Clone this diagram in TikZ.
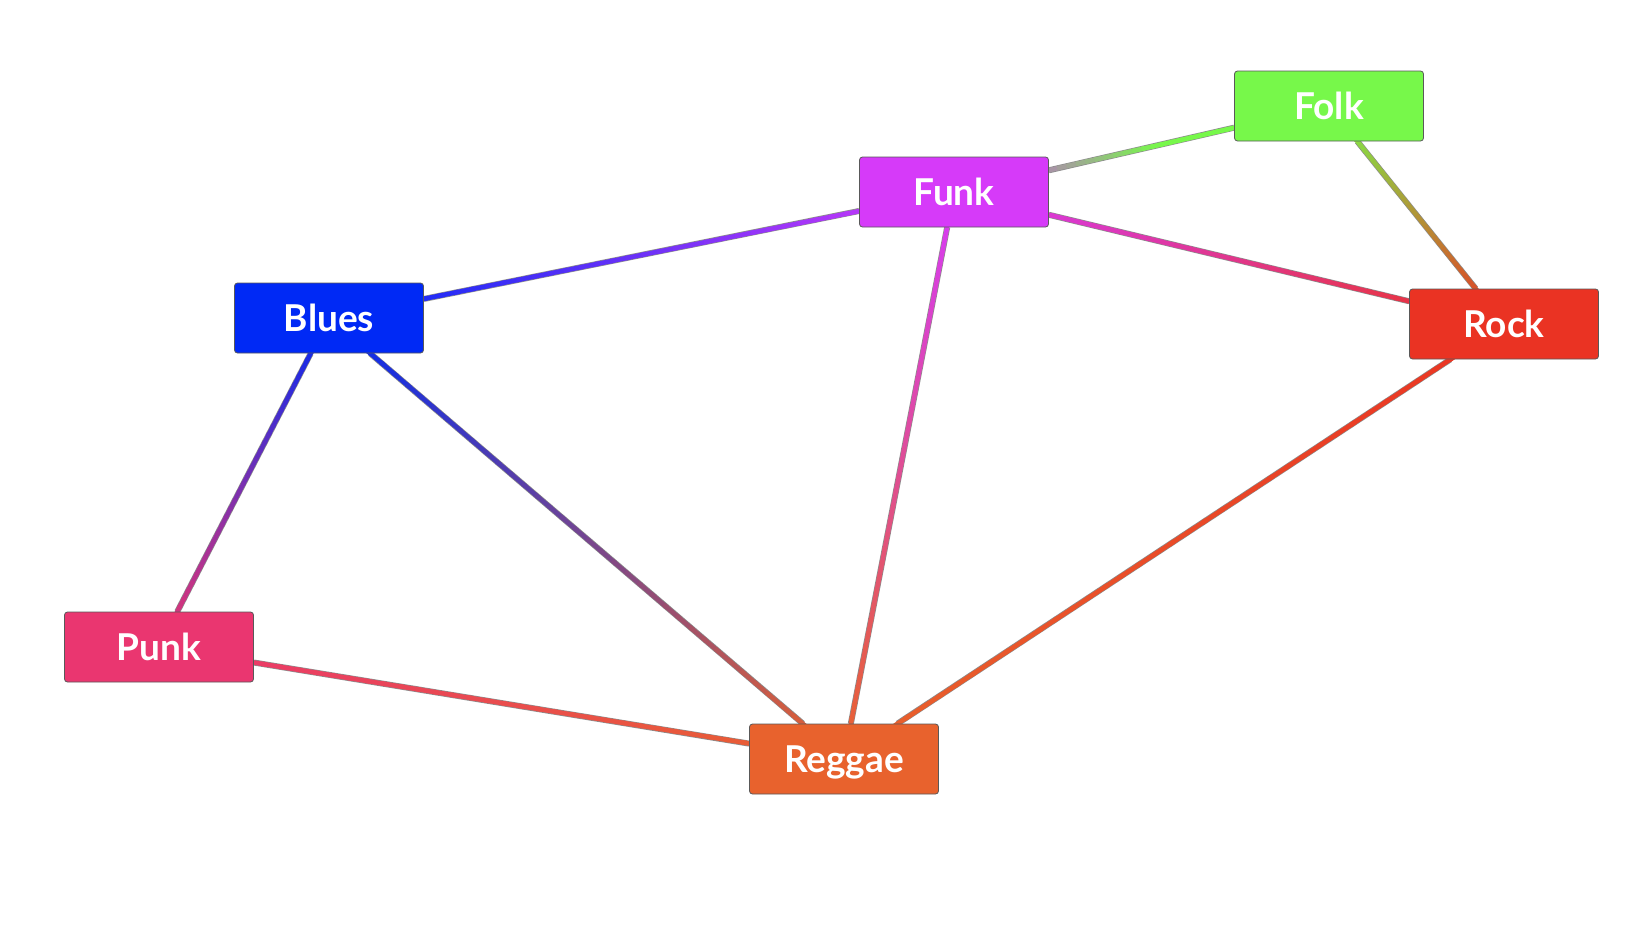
\documentclass[tikz,border=0pt]{standalone}
\usepackage{fontspec}
\setmainfont{Lato}
\usetikzlibrary{calc,backgrounds}

\definecolor{folkc}{HTML}{77F84A}
\definecolor{funkc}{HTML}{D63AF9}
\definecolor{bluesc}{HTML}{0029F5}
\definecolor{rockc}{HTML}{EA3323}
\definecolor{punkc}{HTML}{EA3670}
\definecolor{reggaec}{HTML}{E8622D}

% colour runs from #4 at node #2 to #5 at node #3, reaching #5 at fraction #1
\newcommand{\gradedge}[5][1]{%
  \draw[edgeline] (#2) -- (#3);
  \foreach \i in {0,...,39} {
    \pgfmathsetmacro\jj{min(\i+1.3,40)}
    \pgfmathtruncatemacro\pct{100*(1-min(1,(\i+0.5)/(40*#1)))}
    \draw[edge, draw=#4!\pct!#5] ($(#2)!\i/40!(#3)$) -- ($(#2)!\jj/40!(#3)$);
  }%
}

\begin{document}
\begin{tikzpicture}[
    x=1pt, y=-1pt,
    genre/.style={rectangle, rounded corners=3pt, draw=black!65, line width=0.8pt,
      minimum width=189pt, minimum height=70pt, text=white,
      font=\fontsize{37}{42}\selectfont\bfseries, text height=26.5pt, text depth=0pt},
    edgeline/.style={line width=6pt, draw=black!45},
    edge/.style={line width=4.6pt}
]
\useasboundingbox (0,0) rectangle (1646,940);

\node[genre, fill=folkc] (folk) at (1329,106) {Folk};
\node[genre, fill=funkc] (funk) at (954,192) {Funk};
\node[genre, fill=bluesc] (blues) at (329,318) {Blues};
\node[genre, fill=rockc] (rock) at (1504,324) {Rock};
\node[genre, fill=punkc] (punk) at (159,647) {Punk};
\node[genre, fill=reggaec] (reggae) at (844,759) {Reggae};

\begin{scope}[on background layer]
\gradedge[0.55]{funk}{folk}{funkc}{folkc}
\gradedge{folk}{rock}{folkc}{rockc}
\gradedge{blues}{funk}{bluesc}{funkc}
\gradedge{funk}{rock}{funkc}{rockc}
\gradedge{funk}{reggae}{funkc}{reggaec}
\gradedge{blues}{punk}{bluesc}{punkc}
\gradedge{blues}{reggae}{bluesc}{reggaec}
\gradedge{punk}{reggae}{punkc}{reggaec}
\gradedge{rock}{reggae}{rockc}{reggaec}
\end{scope}
\end{tikzpicture}
\end{document}
